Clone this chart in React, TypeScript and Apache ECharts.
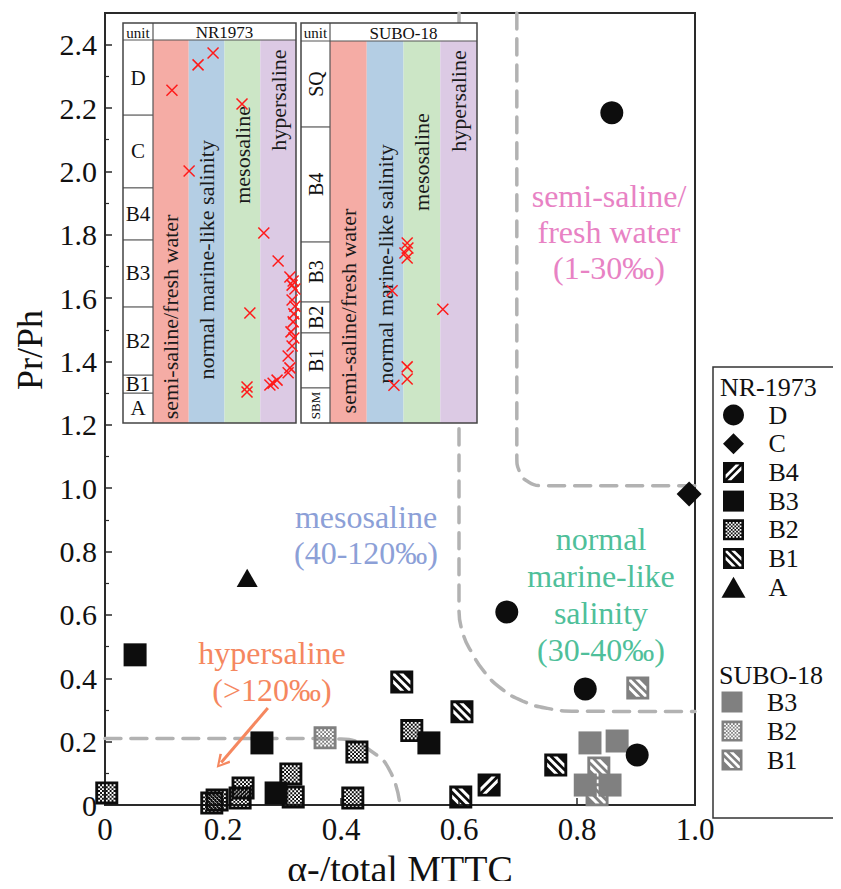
import React, { useEffect, useRef } from 'react';
import * as echarts from 'echarts';

const FONT = "'Liberation Serif', 'Times New Roman', serif";

// ---------- main plot data: [alpha-/total MTTC, Pr/Ph] ----------
const nrD = [[0.859, 2.185], [0.681, 0.609], [0.814, 0.366], [0.902, 0.158]];
const nrC = [[0.99, 0.982]];
const nrB4 = [[0.651, 0.063]];
const nrB3 = [[0.051, 0.474], [0.266, 0.196], [0.29, 0.038], [0.549, 0.196]];
const nrB2 = [[0.003, 0.038], [0.181, 0.006], [0.19, 0.016], [0.229, 0.022], [0.234, 0.054], [0.315, 0.098], [0.319, 0.025], [0.42, 0.022], [0.427, 0.167], [0.52, 0.235]];
const nrB1 = [[0.503, 0.388], [0.605, 0.294], [0.764, 0.126], [0.603, 0.025]];
const nrA = [[0.241, 0.717]];
const suB3 = [[0.822, 0.196], [0.868, 0.202], [0.814, 0.063], [0.856, 0.063]];
const suB2 = [[0.373, 0.212]];
const suB1 = [[0.903, 0.369], [0.837, 0.117], [0.834, 0.032]];

// salinity boundary curves
const boundHyper = [[0, 0.21], [0.3, 0.21], [0.4, 0.208], [0.455, 0.165], [0.485, 0.1], [0.5, 0]];
const boundMarine = [[0.6, 2.5], [0.6, 0.62], [0.607, 0.54], [0.622, 0.48], [0.643, 0.42], [0.672, 0.367], [0.708, 0.328], [0.75, 0.305], [0.8, 0.296], [1.0, 0.295]];
const boundFresh = [[0.698, 2.5], [0.698, 1.1], [0.703, 1.05], [0.716, 1.022], [0.74, 1.008], [1.0, 1.008]];
const hyperArrow = [[0.276, 0.306], [0.197, 0.134]];

// ---------- inset data ----------
const salinityClasses = ['semi-saline/fresh water', 'normal marine-like salinity', 'mesosaline', 'hypersaline'];
// [salinity class position (0-4), relative stratigraphic height (0-100)]
const nrInsetMarks = [
  [0.53, 86.9], [1.26, 93.5], [1.68, 96.6], [2.49, 83.3], [1.01, 65.8], [3.1, 49.6], [3.5, 42.3],
  [2.71, 28.7], [2.63, 9.4], [2.63, 8.1], [3.83, 38.1], [3.92, 37.1], [3.89, 36.0], [3.97, 35.0],
  [3.89, 32.1], [3.97, 30.5], [3.94, 28.5], [3.92, 26.4], [3.86, 23.8], [3.94, 22.2], [3.89, 20.1],
  [3.78, 17.5], [3.83, 14.4], [3.78, 13.1], [3.47, 11.2], [3.36, 10.4], [3.27, 9.9],
];
const suInsetMarks = [
  [2.1, 47.1], [2.12, 45.8], [2.04, 44.5], [2.1, 43.2], [1.69, 34.6], [3.07, 29.8],
  [2.1, 14.7], [2.1, 11.5], [1.74, 9.9],
];
const nrUnits = ['D', 'C', 'B4', 'B3', 'B2', 'B1', 'A'];
const nrUnitBounds = [100, 80.4, 61.4, 47.8, 30.3, 12.5, 7.8, 0];
const suUnits = ['SQ', 'B4', 'B3', 'B2', 'B1', 'SBM'];
const suUnitBounds = [100, 77.5, 47.4, 31.7, 23.6, 9.2, 0];

const legendNR = ['D', 'C', 'B4', 'B3', 'B2', 'B1', 'A'];
const legendSU = ['B3 (SUBO-18)', 'B2 (SUBO-18)', 'B1 (SUBO-18)'];

// ---------- symbol glyphs ----------
type Pt = [number, number];
const OUTER = 'M0 0H24V24H0Z';
const BW = 3;
const inner: Pt[] = [[BW, BW], [24 - BW, BW], [24 - BW, 24 - BW], [BW, 24 - BW]];
function clipHalf(poly: Pt[], f: (p: Pt) => number): Pt[] {
  const out: Pt[] = [];
  for (let i = 0; i < poly.length; i++) {
    const a = poly[i];
    const b = poly[(i + 1) % poly.length];
    const fa = f(a);
    const fb = f(b);
    if (fa >= 0) out.push(a);
    if ((fa >= 0) !== (fb >= 0)) {
      const t = fa / (fa - fb);
      out.push([a[0] + t * (b[0] - a[0]), a[1] + t * (b[1] - a[1])]);
    }
  }
  return out;
}
function signedArea(p: Pt[]) {
  let s = 0;
  for (let i = 0; i < p.length; i++) {
    const a = p[i];
    const b = p[(i + 1) % p.length];
    s += a[0] * b[1] - b[0] * a[1];
  }
  return s / 2;
}
function holePath(poly: Pt[]) {
  const p = signedArea(poly) > 0 ? poly.slice().reverse() : poly;
  return 'M' + p.map((q) => q[0].toFixed(2) + ' ' + q[1].toFixed(2)).join('L') + 'Z';
}
function striped(dir: 1 | -1, centers: number[], half: number) {
  let d = OUTER;
  centers.forEach((c) => {
    const g = (p: Pt) => (dir === 1 ? p[1] - p[0] : p[0] + p[1] - 24) - c;
    let poly = clipHalf(inner, (p) => half - g(p));
    poly = clipHalf(poly, (p) => half + g(p));
    if (poly.length >= 3) d += holePath(poly);
  });
  return 'path://' + d;
}
function checker(cell: number) {
  let d = OUTER;
  const n = Math.round((24 - 2 * BW) / cell);
  for (let i = 0; i < n; i++) {
    for (let j = 0; j < n; j++) {
      if ((i + j) % 2 === 0) {
        const x = BW + i * cell;
        const y = BW + j * cell;
        d += `M${x} ${y}V${y + cell}H${x + cell}V${y}Z`;
      }
    }
  }
  return 'path://' + d;
}
const SYM_SQUARE = 'path://' + OUTER;
const SYM_BACK = striped(1, [-8.5, 0, 8.5], 2.2);
const SYM_FWD = striped(-1, [-4.3, 4.3], 2.2);
const SYM_CHECK = checker(2);
const SYM_DIAMOND = 'path://M12 0L24 12L12 24L0 12Z';
const SYM_TRI = 'path://M12 0L24 21L0 21Z';
const SYM_X = 'path://M0 0L10 10M10 0L0 10';
const SYM_ARROWHEAD = 'path://M7 0L14 12L12 13.5L7 4L2 13.5L0 12Z';

const colColors = ['#f5aca5', '#b4cee4', '#cce6c6', '#dccae4'];

interface InsetCfg {
  title: string;
  unitW: number;
  headH: number;
  units: string[];
  bounds: number[];
  rotateUnits: boolean;
  unitFont: number;
  smallFont: number;
  colTextV: number[];
}

function renderInset(cfg: InsetCfg) {
  return (_params: any, api: any) => {
    const c = (x: number, v: number) => api.coord([x, v]);
    const [xl, yb] = c(-cfg.unitW, 0);
    const [xr, yt] = c(4, 100);
    const x0 = c(0, 0)[0];
    const ht = yt - cfg.headH;
    const kids: any[] = [];
    kids.push({ type: 'rect', shape: { x: xl, y: ht, width: xr - xl, height: yb - ht }, style: { fill: '#fff' }, z2: 0 });
    salinityClasses.forEach((name, i) => {
      const a = c(i, 0)[0];
      const b = c(i + 1, 0)[0];
      kids.push({ type: 'rect', shape: { x: a, y: yt, width: b - a, height: yb - yt }, style: { fill: colColors[i] }, z2: 1 });
      const ty = c(0, cfg.colTextV[i])[1];
      kids.push({
        type: 'text', x: (a + b) / 2, y: ty, rotation: Math.PI / 2,
        style: { text: name, fontSize: 22, fontFamily: FONT, fill: '#1a1a1a', align: 'center', verticalAlign: 'middle' }, z2: 3,
      });
    });
    cfg.units.forEach((u, j) => {
      const y1 = c(0, cfg.bounds[j])[1];
      const y2 = c(0, cfg.bounds[j + 1])[1];
      if (j > 0) kids.push({ type: 'line', shape: { x1: xl, y1, x2: x0, y2: y1 }, style: { stroke: '#555', lineWidth: 1.2 }, z2: 4 });
      kids.push({
        type: 'text', x: (xl + x0) / 2, y: (y1 + y2) / 2, rotation: cfg.rotateUnits ? Math.PI / 2 : 0,
        style: { text: u, fontSize: u.length > 2 ? cfg.smallFont : cfg.unitFont, fontFamily: FONT, fill: '#111', align: 'center', verticalAlign: 'middle' }, z2: 3,
      });
    });
    kids.push({ type: 'line', shape: { x1: xl, y1: yt, x2: xr, y2: yt }, style: { stroke: '#555', lineWidth: 1.2 }, z2: 4 });
    kids.push({ type: 'line', shape: { x1: x0, y1: ht, x2: x0, y2: yb }, style: { stroke: '#555', lineWidth: 1.2 }, z2: 4 });
    kids.push({
      type: 'text', x: (xl + x0) / 2, y: (ht + yt) / 2 + 1,
      style: { text: 'unit', fontSize: 15, fontFamily: FONT, fill: '#111', align: 'center', verticalAlign: 'middle' }, z2: 3,
    });
    kids.push({
      type: 'text', x: (x0 + xr) / 2, y: (ht + yt) / 2 + 1,
      style: { text: cfg.title, fontSize: 17, fontFamily: FONT, fill: '#111', align: 'center', verticalAlign: 'middle' }, z2: 3,
    });
    kids.push({ type: 'rect', shape: { x: xl, y: ht, width: xr - xl, height: yb - ht }, style: { fill: 'none', stroke: '#444', lineWidth: 1.5 }, z2: 5 });
    return { type: 'group', children: kids };
  };
}

function mainScatter(name: string, data: number[][], symbol: string, size: number, color: string) {
  return {
    type: 'scatter', name, data, symbol, symbolSize: size, symbolKeepAspect: true,
    xAxisIndex: 0, yAxisIndex: 0, z: 5, silent: true,
    itemStyle: { color, borderWidth: 0, opacity: 1 },
  };
}

function boundary(name: string, data: number[][], extra: any = {}) {
  return {
    type: 'line', name, data, xAxisIndex: 0, yAxisIndex: 0, z: 3, silent: true,
    showSymbol: false, symbol: 'none', smooth: 0.5,
    lineStyle: { color: '#b2b2b2', width: 3.5, type: [16, 10], cap: 'round' },
    ...extra,
  };
}

const BLACK = '#0d0d0d';
const GRAY = '#808080';

const option: any = {
  animation: false,
  backgroundColor: '#fff',
  grid: [
    { left: 97, top: 5, width: 590, height: 792, show: true, borderColor: '#2a2a2a', borderWidth: 2, backgroundColor: 'transparent', outerBoundsMode: 'none' },
    { left: 115, top: 32, width: 173, height: 383, outerBoundsMode: 'none' },
    { left: 293, top: 33, width: 176, height: 382, outerBoundsMode: 'none' },
  ],
  xAxis: [
    {
      type: 'value', gridIndex: 0, min: 0, max: 1, interval: 0.2,
      axisLine: { show: true, lineStyle: { color: '#2a2a2a', width: 2 } },
      axisTick: { show: true, inside: true, length: 7, lineStyle: { color: '#2a2a2a', width: 1.5 } },
      splitLine: { show: false },
      axisLabel: { fontSize: 31, fontFamily: FONT, color: '#111', margin: 9, formatter: (v: number) => (v === 0 ? '0' : v.toFixed(1)) },
      name: 'α-/total MTTC', nameLocation: 'middle', nameGap: 38,
      nameTextStyle: { fontSize: 38, fontFamily: FONT, color: '#111' },
    },
    { type: 'value', gridIndex: 1, min: -30 / 35.75, max: 4, show: false },
    { type: 'value', gridIndex: 2, min: -29 / 36.75, max: 4, show: false },
  ],
  yAxis: [
    {
      type: 'value', gridIndex: 0, min: 0, max: 2.5, interval: 0.2,
      axisLine: { show: true, lineStyle: { color: '#2a2a2a', width: 2 } },
      axisTick: { show: true, inside: true, length: 7, lineStyle: { color: '#2a2a2a', width: 1.5 } },
      minorTick: { show: true, splitNumber: 2, length: 4, lineStyle: { color: '#2a2a2a', width: 1.2 } },
      splitLine: { show: false },
      axisLabel: {
        fontSize: 30, fontFamily: FONT, color: '#111', margin: 8,
        formatter: (v: number) => (v > 2.45 ? '' : v === 0 ? '0' : v.toFixed(1)),
      },
    },
    { type: 'value', gridIndex: 1, min: 0, max: 100, show: false },
    { type: 'value', gridIndex: 2, min: 0, max: 100, show: false },
  ],
  legend: [
    {
      data: legendNR, orient: 'vertical', left: 713.5, top: 394, padding: 0,
      itemWidth: 60, itemHeight: 21, itemGap: 2.7, selectedMode: false,
      textStyle: { fontSize: 26, fontFamily: FONT, color: '#111' },
    },
    {
      data: legendSU, orient: 'vertical', left: 713.5, top: 681, padding: 0,
      itemWidth: 60, itemHeight: 21, itemGap: 3, selectedMode: false,
      textStyle: { fontSize: 26, fontFamily: FONT, color: '#111' },
      formatter: (name: string) => name.replace(' (SUBO-18)', ''),
    },
  ],
  graphic: [
    { type: 'rect', shape: { x: 705, y: 359, width: 125, height: 451 }, style: { fill: 'none', stroke: '#333', lineWidth: 1.5 }, z: 1 },
    { type: 'text', x: 712, y: 379, style: { text: 'NR-1973', fontSize: 26, fontFamily: FONT, fill: '#111', align: 'left', verticalAlign: 'middle' }, z: 1 },
    { type: 'text', x: 711, y: 667, style: { text: 'SUBO-18', fontSize: 26, fontFamily: FONT, fill: '#111', align: 'left', verticalAlign: 'middle' }, z: 1 },
    { type: 'text', x: 22, y: 342, rotation: Math.PI / 2, style: { text: 'Pr/Ph', fontSize: 36, fontFamily: FONT, fill: '#111', align: 'center', verticalAlign: 'middle' }, z: 1 },
    { type: 'text', x: 601, y: 224, style: { text: 'semi-saline/\nfresh water\n(1-30‰)', fontSize: 32, lineHeight: 36, fontFamily: FONT, fill: '#e882c4', align: 'center', verticalAlign: 'middle' }, z: 1 },
    { type: 'text', x: 358, y: 527, style: { text: 'mesosaline\n(40-120‰)', fontSize: 32, lineHeight: 36, fontFamily: FONT, fill: '#8ca0d7', align: 'center', verticalAlign: 'middle' }, z: 1 },
    { type: 'text', x: 593, y: 586, style: { text: 'normal\nmarine-like\nsalinity\n(30-40‰)', fontSize: 32, lineHeight: 37, fontFamily: FONT, fill: '#4fbf9a', align: 'center', verticalAlign: 'middle' }, z: 1 },
    { type: 'text', x: 264, y: 663, style: { text: 'hypersaline\n(>120‰)', fontSize: 32, lineHeight: 37, fontFamily: FONT, fill: '#f5875f', align: 'center', verticalAlign: 'middle' }, z: 1 },
  ],
  series: [
    boundary('boundary hypersaline', boundHyper, {
      markLine: {
        silent: true, symbol: ['none', SYM_ARROWHEAD], symbolSize: [14, 14],
        lineStyle: { color: '#f5875f', width: 3, type: 'solid' }, label: { show: false },
        data: [[{ coord: hyperArrow[0] }, { coord: hyperArrow[1] }]],
      },
    }),
    boundary('boundary marine', boundMarine),
    boundary('boundary fresh', boundFresh),
    mainScatter('B2', nrB2, SYM_CHECK, 23, BLACK),
    mainScatter('B3', nrB3, SYM_SQUARE, 23, BLACK),
    mainScatter('B1', nrB1, SYM_BACK, 23, BLACK),
    mainScatter('B4', nrB4, SYM_FWD, 23, BLACK),
    mainScatter('B3 (SUBO-18)', suB3, SYM_SQUARE, 23, GRAY),
    mainScatter('B2 (SUBO-18)', suB2, SYM_CHECK, 23, GRAY),
    mainScatter('B1 (SUBO-18)', suB1, SYM_BACK, 23, GRAY),
    mainScatter('D', nrD, 'circle', 23, BLACK),
    mainScatter('C', nrC, SYM_DIAMOND, 25, BLACK),
    mainScatter('A', nrA, SYM_TRI, 21, BLACK),
    {
      type: 'custom', name: 'NR1973 table', xAxisIndex: 1, yAxisIndex: 1, z: 10, silent: true, data: [[0, 50]],
      renderItem: renderInset({
        title: 'NR1973', unitW: 30 / 35.75, headH: 17, units: nrUnits, bounds: nrUnitBounds,
        rotateUnits: false, unitFont: 21, smallFont: 14, colTextV: [27.7, 42.6, 70.0, 84.3],
      }),
    },
    {
      type: 'custom', name: 'SUBO-18 table', xAxisIndex: 2, yAxisIndex: 2, z: 10, silent: true, data: [[0, 50]],
      renderItem: renderInset({
        title: 'SUBO-18', unitW: 29 / 36.75, headH: 18, units: suUnits, bounds: suUnitBounds,
        rotateUnits: true, unitFont: 20, smallFont: 13, colTextV: [29.3, 41.6, 68.3, 84.3],
      }),
    },
    {
      type: 'scatter', name: 'NR1973 salinity', xAxisIndex: 1, yAxisIndex: 1, z: 12, silent: true,
      data: nrInsetMarks, symbol: SYM_X, symbolSize: 11,
      itemStyle: { color: 'none', borderColor: '#ff1a1a', borderWidth: 1.5, opacity: 1 },
    },
    {
      type: 'scatter', name: 'SUBO-18 salinity', xAxisIndex: 2, yAxisIndex: 2, z: 12, silent: true,
      data: suInsetMarks, symbol: SYM_X, symbolSize: 11,
      itemStyle: { color: 'none', borderColor: '#ff1a1a', borderWidth: 1.5, opacity: 1 },
    },
  ],
};

export default function App() {
  const ref = useRef<HTMLDivElement>(null);
  useEffect(() => {
    const chart = echarts.init(ref.current as HTMLDivElement, null, { renderer: 'svg' });
    chart.setOption(option);
    return () => chart.dispose();
  }, []);
  return <div ref={ref} style={{ width: 825, height: 881, marginBottom: -8 }} />;
}
